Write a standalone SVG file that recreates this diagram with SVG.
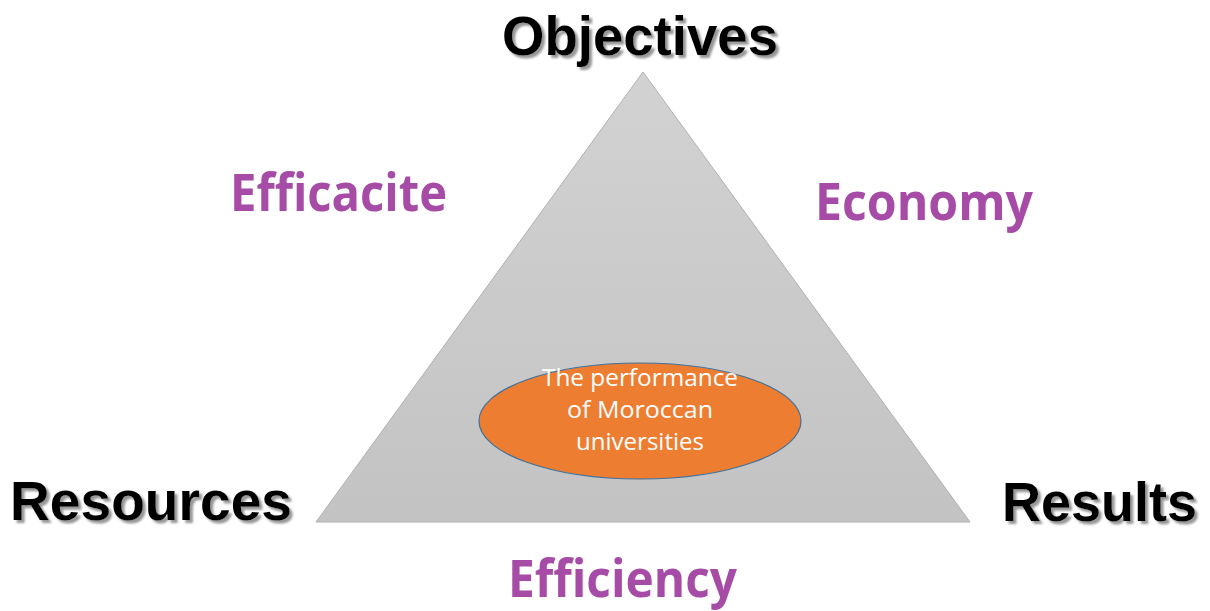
<svg xmlns="http://www.w3.org/2000/svg" width="1210" height="611" viewBox="0 0 1210 611">
<defs>
<linearGradient id="tri" x1="0" y1="0" x2="0" y2="1">
<stop offset="0" stop-color="#d2d2d2"/>
<stop offset="1" stop-color="#c3c3c3"/>
</linearGradient>
<filter id="shadow" x="-5%" y="-20%" width="115%" height="150%">
<feDropShadow dx="3" dy="3" stdDeviation="0.8" flood-color="#8c8c8c" flood-opacity="0.9"/>
</filter>
</defs>
<style>
.corner{font-family:"Liberation Sans",Arial,sans-serif;font-weight:bold;font-size:55px;fill:#000;filter:url(#shadow)}
.side{font-family:"Open Sans","Noto Sans",sans-serif;font-weight:bold;font-size:52px;fill:#a64ca6}
.inner{font-family:"Open Sans","Noto Sans",sans-serif;font-size:23px;fill:#fff;text-anchor:middle}
</style>
<rect width="1210" height="611" fill="#fff"/>
<g id="triangle">
<polygon points="643,72 316,522 970,522" fill="url(#tri)" stroke="#b0b0b0" stroke-width="1"/>
</g>
<g id="center">
<ellipse cx="640" cy="421" rx="161" ry="58" fill="#ed7d31" stroke="#41719c" stroke-width="1.2"/>
<text class="inner" x="640" y="386" textLength="196" lengthAdjust="spacingAndGlyphs">The performance</text>
<text class="inner" x="640" y="418" textLength="146" lengthAdjust="spacingAndGlyphs">of Moroccan</text>
<text class="inner" x="640" y="450" textLength="128" lengthAdjust="spacingAndGlyphs">universities</text>
</g>
<g id="objectives"><text class="corner" x="502" y="55" textLength="276" lengthAdjust="spacingAndGlyphs">Objectives</text></g>
<g id="resources"><text class="corner" x="10" y="520" textLength="282" lengthAdjust="spacingAndGlyphs">Resources</text></g>
<g id="results"><text class="corner" x="1002" y="521" textLength="195" lengthAdjust="spacingAndGlyphs">Results</text></g>
<g id="efficacite"><text class="side" x="230" y="211" textLength="217" lengthAdjust="spacingAndGlyphs">Efficacite</text></g>
<g id="economy"><text class="side" x="815" y="220" textLength="218" lengthAdjust="spacingAndGlyphs">Economy</text></g>
<g id="efficiency"><text class="side" x="508" y="597" textLength="229" lengthAdjust="spacingAndGlyphs">Efficiency</text></g>
<g id="connectors"></g>
</svg>
